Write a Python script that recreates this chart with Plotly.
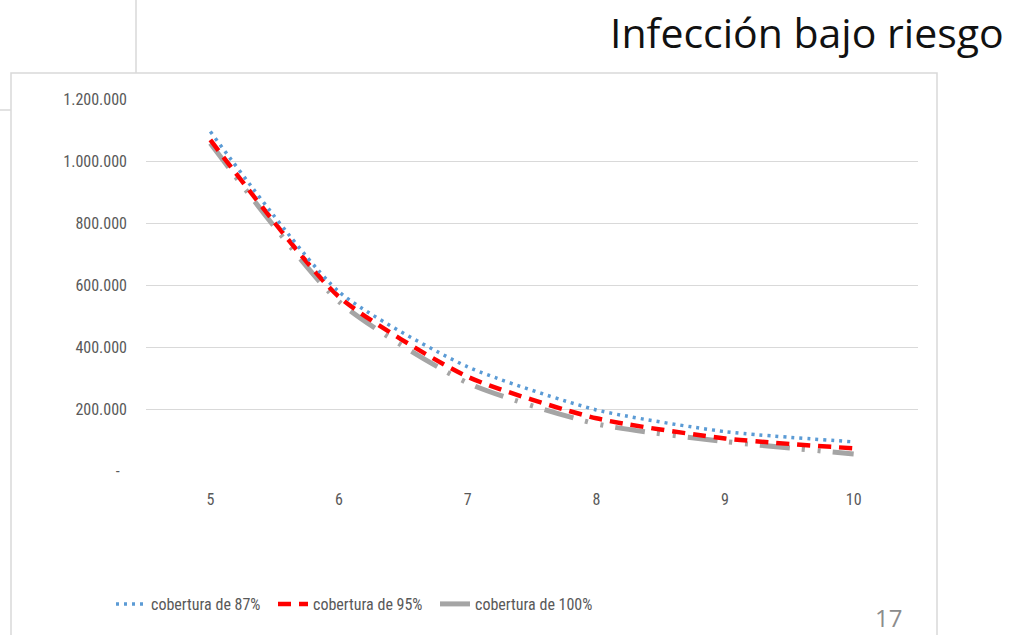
import plotly.graph_objects as go

years = [5, 6, 7, 8, 9, 10]
cov87 = [1095000, 578000, 336000, 197000, 127000, 94000]
cov95 = [1068000, 562000, 304000, 170000, 105000, 73000]
cov100 = [1057000, 546000, 284000, 152000, 95000, 55000]
series_names = ["cobertura de 87%", "cobertura de 95%", "cobertura de 100%"]
ytick_vals = [0, 200000, 400000, 600000, 800000, 1000000, 1200000]
ytick_text = ["-\u00a0\u00a0", "200.000", "400.000", "600.000", "800.000", "1.000.000", "1.200.000"]

W, H = 1015, 635
L, R, T, B = 146, 97, 99, 164
pw, ph = W - L - R, H - T - B

def px(x):
    return (x - L) / pw

def py(y):
    return (H - B - y) / ph

FONT = "Liberation Sans Narrow, Roboto Condensed, Arial Narrow, sans-serif"

fig = go.Figure()
fig.add_trace(go.Scatter(x=years, y=cov100, name=series_names[2], mode="lines",
                         line=dict(color="#A5A5A5", width=5, shape="spline", smoothing=0.6,
                                   dash="30px,12px,3px,13px,3px,12px")))
fig.add_trace(go.Scatter(x=years, y=cov95, name=series_names[1], mode="lines",
                         line=dict(color="#FF0000", width=4.5, shape="spline", smoothing=0.6,
                                   dash="13px,8px")))
fig.add_trace(go.Scatter(x=years, y=cov87, name=series_names[0], mode="lines",
                         line=dict(color="#5B9BD5", width=3.5, shape="spline", smoothing=0.6,
                                   dash="3px,5px")))

shapes = [
    dict(type="rect", xref="paper", yref="paper", x0=px(11), x1=px(937), y0=py(73), y1=py(640),
         line=dict(color="#D9D9D9", width=1.5), layer="below"),
    dict(type="line", xref="paper", yref="paper", x0=px(136), x1=px(136), y0=py(-2), y1=py(73),
         line=dict(color="#D9D9D9", width=1.5)),
    dict(type="line", xref="paper", yref="paper", x0=px(-2), x1=px(11), y0=py(110), y1=py(110),
         line=dict(color="#D9D9D9", width=1.5)),
]

annotations = [
    dict(text="Infección bajo riesgo", xref="paper", yref="paper", x=px(1006), y=py(32),
         xanchor="right", yanchor="middle", showarrow=False,
         font=dict(family="Open Sans, sans-serif", size=41, color="#111111")),
    dict(text="17", xref="paper", yref="paper", x=px(888), y=py(617),
         xanchor="center", yanchor="middle", showarrow=False,
         font=dict(family="Open Sans, sans-serif", size=24, color="#8C8C8C")),
]

fig.update_layout(
    width=W, height=H,
    margin=dict(l=L, r=R, t=T, b=B, pad=0),
    paper_bgcolor="white", plot_bgcolor="white",
    showlegend=True,
    legend=dict(orientation="h", x=px(111), y=py(604), xanchor="left", yanchor="middle",
                traceorder="reversed", entrywidth=117, entrywidthmode="pixels",
                font=dict(family=FONT, size=16, color="#595959"), bgcolor="rgba(0,0,0,0)"),
    xaxis=dict(range=[4.5, 10.5], tickvals=years, ticktext=[str(v) for v in years],
               showgrid=False, zeroline=False, showline=False, ticks="",
               tickfont=dict(family=FONT, size=16, color="#595959"), ticklabelstandoff=17),
    yaxis=dict(range=[0, 1200000], tickvals=ytick_vals, ticktext=ytick_text,
               showgrid=True, gridcolor="#D9D9D9", gridwidth=1.3, zeroline=False, showline=False,
               ticks="", tickfont=dict(family=FONT, size=16, color="#595959"),
               ticklabelstandoff=18),
    shapes=shapes, annotations=annotations,
)

fig.write_html("out.html", config={"displayModeBar": False},
               post_script="document.body.style.margin='0px';document.body.style.overflow='hidden';")
